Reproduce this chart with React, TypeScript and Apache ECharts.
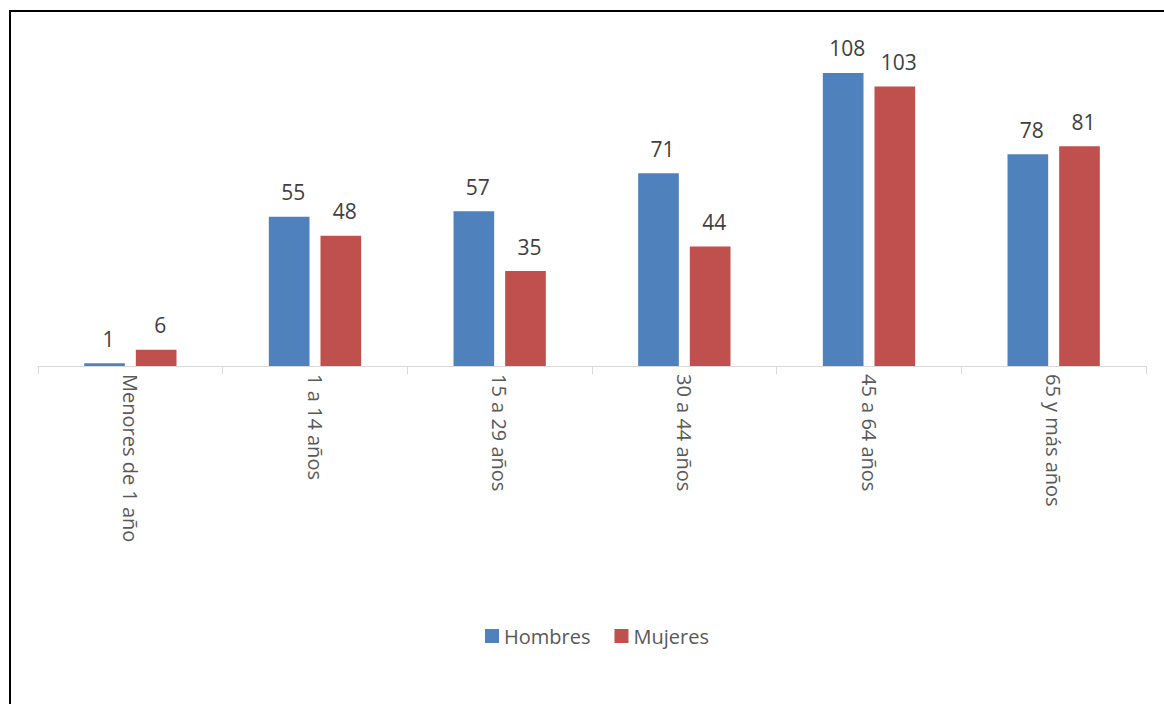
import React, { useEffect, useRef } from "react";
import * as echarts from "echarts";

const categories = ["Menores de 1 año", "1 a 14 años", "15 a 29 años", "30 a 44 años", "45 a 64 años", "65 y más años"];
const hombres = [1, 55, 57, 71, 108, 78];
const mujeres = [6, 48, 35, 44, 103, 81];
const seriesNames = ["Hombres", "Mujeres"];

const FONT = "'Open Sans', sans-serif";

export default function App() {
  const ref = useRef<HTMLDivElement>(null);
  useEffect(() => {
    if (!ref.current) return;
    const chart = echarts.init(ref.current, null, { renderer: "svg" });
    const label = {
      show: true,
      position: "top",
      distance: 14,
      offset: [4, 0],
      color: "#404040",
      fontSize: 21,
      fontFamily: FONT,
    };
    chart.setOption({
      animation: false,
      backgroundColor: "#ffffff",
      textStyle: { fontFamily: FONT },
      graphic: [
        {
          type: "rect",
          shape: { x: 10, y: 11, width: 1300, height: 900 },
          style: { fill: "none", stroke: "#000000", lineWidth: 2 },
          silent: true,
        },
      ],
      legend: {
        data: seriesNames,
        left: 480,
        top: 621,
        itemWidth: 14,
        itemHeight: 14,
        itemGap: 24,
        icon: "rect",
        textStyle: { color: "#595959", fontSize: 20, fontFamily: FONT },
      },
      grid: { left: 38, right: 18, top: 40.4, bottom: 338, containLabel: false },
      xAxis: {
        type: "category",
        data: categories,
        axisLine: { lineStyle: { color: "#d9d9d9", width: 1 } },
        axisTick: { show: true, length: 8, lineStyle: { color: "#d9d9d9" } },
        axisLabel: {
          rotate: -90,
          margin: 8,
          color: "#595959",
          fontSize: 20,
          fontFamily: FONT,
          interval: 0,
        },
      },
      yAxis: {
        type: "value",
        min: 0,
        max: 120,
        interval: 20,
        show: false,
        splitLine: { show: false },
      },
      series: [
        {
          name: seriesNames[0],
          type: "bar",
          data: hombres,
          itemStyle: { color: "#4F81BD" },
          barGap: "27%",
          barCategoryGap: "50%",
          label,
        },
        {
          name: seriesNames[1],
          type: "bar",
          data: mujeres,
          itemStyle: { color: "#C0504D" },
          barGap: "27%",
          barCategoryGap: "50%",
          label,
        },
      ],
    });
    return () => chart.dispose();
  }, []);
  return (
    <div
      ref={ref}
      style={{ position: "absolute", left: 0, top: 0, width: 1164, height: 704 }}
    />
  );
}
